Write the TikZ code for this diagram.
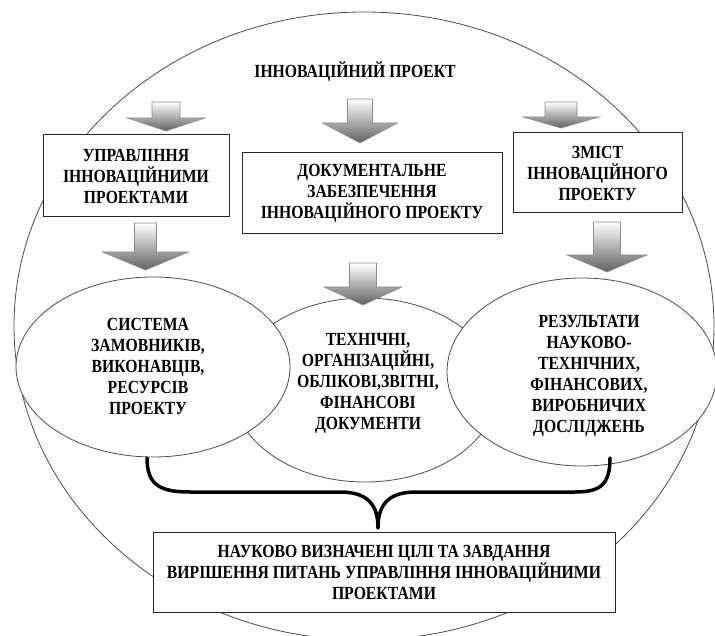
\documentclass[tikz,border=0pt]{standalone}
\usepackage{fontspec}
\setmainfont[FakeStretch=0.85]{Liberation Serif}
\usetikzlibrary{shapes.geometric}
\tikzset{
  txt/.style={font=\bfseries\fontsize{18.5}{21}\selectfont, align=center, inner sep=0pt},
  boxnode/.style={txt, draw=black!85, line width=1pt, fill=white},
  ovalnode/.style={ellipse, draw=black!70, line width=0.8pt, fill=white, inner sep=0pt},
  blockarrow/.style={draw=black!45, line width=0.6pt, top color=white, bottom color=black!62},
  bracket/.style={line width=3.5pt, line cap=round, line join=round}
}
\newcommand{\blockarr}[6]{%
  \path[blockarrow] ({#1-#2},#4) -- ({#1+#2},#4) -- ({#1+#2},#5) -- ({#1+#3},#5)
    -- (#1,#6) -- ({#1-#3},#5) -- ({#1-#2},#5) -- cycle;}
\begin{document}
\begin{tikzpicture}[x=1pt,y=-1pt]
\useasboundingbox (0,0) rectangle (715,636);
% outer ellipse
\node[ellipse, draw=black!70, line width=0.8pt, inner sep=0pt,
      minimum width=700pt, minimum height=628pt] (outer) at (364,326) {};
% ellipses
\node[ovalnode, minimum width=264pt, minimum height=184pt] (emid) at (365,390) {};
\node[ovalnode, minimum width=274pt, minimum height=180pt] (eleft) at (153,367) {};
\node[ovalnode, minimum width=270pt, minimum height=188pt] (eright) at (582,372) {};
\node[txt] (tleft) at (148,366) {СИСТЕМА\\ЗАМОВНИКІВ,\\ВИКОНАВЦІВ,\\РЕСУРСІВ\\ПРОЕКТУ};
\node[txt] (tmid) at (368,383) {ТЕХНІЧНІ,\\ОРГАНІЗАЦІЙНІ,\\ОБЛІКОВІ,ЗВІТНІ,\\ФІНАНСОВІ\\ДОКУМЕНТИ};
\node[txt] (tright) at (589,376) {РЕЗУЛЬТАТИ\\НАУКОВО-\\ТЕХНІЧНИХ,\\ФІНАНСОВИХ,\\ВИРОБНИЧИХ\\ДОСЛІДЖЕНЬ};
% title
\node[txt] (title) at (355,72) {ІННОВАЦІЙНИЙ ПРОЕКТ};
% boxes
\node[boxnode, minimum width=186pt, minimum height=82pt] (b1) at (136,176) {УПРАВЛІННЯ\\ІННОВАЦІЙНИМИ\\ПРОЕКТАМИ};
\node[boxnode, minimum width=260pt, minimum height=81pt] (b2) at (372,193.5) {ДОКУМЕНТАЛЬНЕ\\ЗАБЕЗПЕЧЕННЯ\\ІННОВАЦІЙНОГО ПРОЕКТУ};
\node[boxnode, minimum width=169pt, minimum height=80pt] (b3) at (597.5,173) {ЗМІСТ\\ІННОВАЦІЙНОГО\\ПРОЕКТУ};
\node[boxnode, minimum width=462pt, minimum height=80pt] (goal) at (384,572) {НАУКОВО ВИЗНАЧЕНІ ЦІЛІ ТА ЗАВДАННЯ\\ВИРІШЕННЯ ПИТАНЬ УПРАВЛІННЯ ІННОВАЦІЙНИМИ\\ПРОЕКТАМИ};
% block arrows: cx, stem half width, head half width, top, head top, tip
\blockarr{166}{14}{39}{102}{118}{131}
\blockarr{360}{12.5}{37.5}{99}{123}{143}
\blockarr{561}{16}{38}{102}{117}{128}
\blockarr{145.5}{11}{43}{223}{252}{270}
\blockarr{363}{13.5}{39}{263}{287}{305}
\blockarr{607}{13.5}{40}{222}{255}{272}
% brace
\coordinate (bl) at (147,458);
\coordinate (br) at (610,458);
\coordinate (btip) at (378,528);
\draw[bracket] (bl) .. controls (147,485) and (160,492) .. (190,492) -- (340,492)
  .. controls (368,492) and (378,505) .. (btip)
  .. controls (378,505) and (388,492) .. (416,492) -- (575,492)
  .. controls (600,492) and (610,485) .. (br);
\end{tikzpicture}
\end{document}
